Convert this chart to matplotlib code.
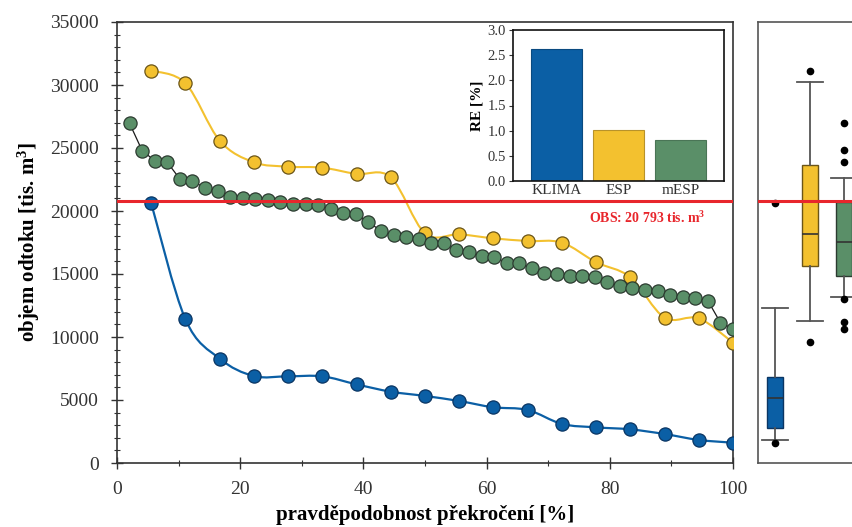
import numpy as np
import matplotlib
matplotlib.use("Agg")
import matplotlib.pyplot as plt
from matplotlib.path import Path
from matplotlib.patches import PathPatch
from matplotlib.ticker import MultipleLocator

# ---------------------------------------------------------------
# data
# ---------------------------------------------------------------
# KLIMA a ESP: 18 hodnot, mESP: 49 hodnot
n_klima = 18
n_mesp = 49
p_klima = [100.0 * k / n_klima for k in range(1, n_klima + 1)]
p_mesp = [100.0 * k / n_mesp for k in range(1, n_mesp + 1)]

klima = [20610, 11400, 8280, 6900, 6880, 6880, 6240, 5660, 5320, 4920,
         4420, 4210, 3100, 2830, 2670, 2300, 1830, 1610]
esp = [31140, 30135, 25585, 23865, 23520, 23440, 22940, 22675, 18230, 18150,
       17830, 17620, 17490, 15930, 14740, 11535, 11480, 9550]
mesp = [26960, 24790, 23995, 23865, 22540, 22410, 21800, 21590, 21140, 21000,
        20930, 20875, 20740, 20560, 20560, 20480, 20160, 19870, 19760, 19100,
        18440, 18100, 17960, 17750, 17490, 17490, 16905, 16770, 16430, 16325,
        15900, 15850, 15450, 15055, 15000, 14870, 14870, 14790, 14390, 14075,
        13865, 13730, 13675, 13335, 13150, 13070, 12885, 11140, 10660]

obs = 20793

# RE [%]
re_names = ["KLIMA", "ESP", "mESP"]
re_values = [2.62, 1.01, 0.82]

# boxplot statistiky
box_labels = ["KLIMA", "ESP", "mESP"]
box_whislo = [1825, 11300, 13200]
box_q1 = [2805, 15660, 14870]
box_med = [5133, 18180, 17565]
box_q3 = [6850, 23650, 20740]
box_whishi = [12330, 30200, 22600]
box_fliers = [[1610, 20610],
              [9580, 31140],
              [27000, 24840, 23920, 12990, 11220, 10620]]

# ---------------------------------------------------------------
# styles
# ---------------------------------------------------------------
c_blue = "#0b5fa5"
c_yellow = "#f3c12f"
c_green = "#5a8f68"
c_red = "#e8262c"

plt.rcParams["font.family"] = ["Liberation Serif", "DejaVu Serif"]
plt.rcParams["mathtext.default"] = "regular"


def smooth_path(xs, ys):
    # Excel-like smooth line (Catmull-Rom -> Bezier)
    pts = np.column_stack([xs, ys]).astype(float)
    verts = [pts[0]]
    codes = [Path.MOVETO]
    for i in range(len(pts) - 1):
        p0 = pts[max(i - 1, 0)]
        p1 = pts[i]
        p2 = pts[i + 1]
        p3 = pts[min(i + 2, len(pts) - 1)]
        verts += [p1 + (p2 - p0) / 6, p2 - (p3 - p1) / 6, p2]
        codes += [Path.CURVE4] * 3
    return Path(verts, codes)


W, H = 852, 527
fig = plt.figure(figsize=(W / 100, H / 100), dpi=100)

# ---------------------------------------------------------------
# main panel
# ---------------------------------------------------------------
ax = fig.add_axes([117 / W, 1 - 463 / H, 616 / W, 441 / H])

ax.add_patch(PathPatch(smooth_path(p_klima, klima), fill=False,
                       edgecolor=c_blue, lw=1.6, zorder=2))
ax.plot(p_klima, klima, ls="none", marker="o", ms=9.5, mfc=c_blue,
        mec="#0a3563", mew=0.9, zorder=3)

ax.add_patch(PathPatch(smooth_path(p_klima, esp), fill=False,
                       edgecolor=c_yellow, lw=1.5, zorder=2))
ax.plot(p_klima, esp, ls="none", marker="o", ms=9.5, mfc=c_yellow,
        mec="#6b5518", mew=0.9, zorder=3)

ax.plot(p_mesp, mesp, color="#1a1a1a", lw=0.9, marker="o", ms=9.5,
        mfc=c_green, mec="#2c3b30", mew=0.9, zorder=3)

ax.axhline(obs, color=c_red, lw=2.2, zorder=5)
ax.text(95.5, obs - 700, r"OBS: 20 793 tis. m$^{3}$", color=c_red,
        fontsize=10, fontweight="bold", ha="right", va="top")

ax.set_xlim(0, 100)
ax.set_ylim(0, 35000)
ax.xaxis.set_major_locator(MultipleLocator(20))
ax.xaxis.set_minor_locator(MultipleLocator(10))
ax.yaxis.set_major_locator(MultipleLocator(5000))
ax.yaxis.set_minor_locator(MultipleLocator(1000))
ax.tick_params(which="both", direction="inout", colors="#333333",
               labelsize=14, pad=9)
ax.tick_params(which="major", length=8, width=1.0)
ax.tick_params(which="minor", length=5, width=0.8)
for s in ax.spines.values():
    s.set_color("#333333")
    s.set_linewidth(1.2)

ax.set_xlabel("pravděpodobnost překročení [%]", fontsize=15,
              fontweight="bold", labelpad=5)
ax.set_ylabel(r"objem odtoku [tis. m$^{3}$]", fontsize=15,
              fontweight="bold", labelpad=6)

# ---------------------------------------------------------------
# inset RE
# ---------------------------------------------------------------
ins = fig.add_axes([513 / W, 1 - 181 / H, 211 / W, 151 / H], zorder=4)
ins.bar(range(len(re_names)), re_values, width=0.83,
        color=[c_blue, c_yellow, c_green],
        edgecolor=["#0a4a80", "#b8922a", "#4a7556"], linewidth=0.8)
ins.set_xlim(-0.7, 2.7)
ins.set_ylim(0, 3.0)
ins.yaxis.set_major_locator(MultipleLocator(0.5))
ins.yaxis.set_major_formatter(matplotlib.ticker.FormatStrFormatter("%.1f"))
ins.set_xticks(range(len(re_names)))
ins.set_xticklabels(re_names)
ins.tick_params(axis="x", length=0, pad=2, labelsize=11, colors="#333333")
ins.tick_params(axis="y", length=3, pad=2, labelsize=10.5, colors="#333333")
ins.set_ylabel("RE [%]", fontsize=11, fontweight="bold", labelpad=3)
for s in ins.spines.values():
    s.set_color("#111111")
    s.set_linewidth(1.2)

# ---------------------------------------------------------------
# right boxplot panel
# ---------------------------------------------------------------
box_px = 34.7
axb = fig.add_axes([758 / W, 1 - 463 / H, 170 / W, 441 / H])
stats = []
for i in range(len(box_labels)):
    stats.append(dict(label=box_labels[i], whislo=box_whislo[i],
                      q1=box_q1[i], med=box_med[i], q3=box_q3[i],
                      whishi=box_whishi[i], fliers=box_fliers[i]))
bp = axb.bxp(stats, positions=[1, 2, 3], widths=16 / box_px,
             capwidths=26 / box_px, patch_artist=True,
             boxprops=dict(linewidth=1.0),
             whiskerprops=dict(color="#555555", linewidth=1.3),
             capprops=dict(color="#555555", linewidth=1.3),
             medianprops=dict(color="#333333", linewidth=1.2),
             flierprops=dict(marker="o", markerfacecolor="black",
                             markeredgecolor="black", markersize=4.5))
for patch, fc, ec in zip(bp["boxes"], [c_blue, c_yellow, c_green],
                         ["#0a3563", "#6b5518", "#2c3b30"]):
    patch.set_facecolor(fc)
    patch.set_edgecolor(ec)
axb.axhline(obs, color=c_red, lw=2.2, zorder=5)
axb.set_xlim(1 - 17 / box_px, 1 - 17 / box_px + 170 / box_px)
axb.set_ylim(0, 35000)
axb.set_xticks([])
axb.set_yticks([])
for s in axb.spines.values():
    s.set_color("#555555")
    s.set_linewidth(1.2)

fig.savefig("out.png", dpi=100)
